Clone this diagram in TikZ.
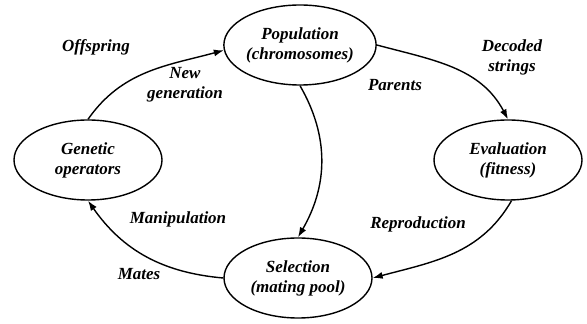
\documentclass[tikz,border=0pt]{standalone}
\usepackage{fontspec}
\setmainfont{Liberation Serif}
\usetikzlibrary{shapes.geometric, arrows.meta}

\begin{document}
\begin{tikzpicture}[x=1pt, y=1pt,
    state/.style={draw, ellipse, line width=1.4pt, minimum width=148pt, minimum height=80pt, inner sep=0pt, align=center},
    lbl/.style={align=center},
    every node/.append style={font=\fontsize{17}{20}\selectfont\bfseries\itshape}]

\useasboundingbox (0,0) rectangle (587,324);

% the four stages of the cycle
\node[state] (pop) at (300,279) {Population\\(chromosomes)};
\node[state] (eval) at (508,164) {Evaluation\\(fitness)};
\node[state] (sel) at (298,46) {Selection\\(mating pool)};
\node[state] (gen) at (88,164) {Genetic\\operators};

% arrows between them
\draw[->, >={Latex[length=10pt,width=7pt]}, line width=1.4pt] (gen.north) to[out=55, in=195] (pop.184);
\draw[->, >={Latex[length=10pt,width=7pt]}, line width=1.4pt] (pop.east) to[out=-15, in=118] (eval.north);
\draw[->, >={Latex[length=10pt,width=7pt]}, line width=1.4pt] (eval.-85) to[out=-120, in=15] (sel.east);
\draw[->, >={Latex[length=10pt,width=7pt]}, line width=1.4pt] (pop.south) to[out=-60, in=60] (sel.north);
\draw[->, >={Latex[length=10pt,width=7pt]}, line width=1.4pt] (sel.west) to[out=175, in=-55] (gen.south);

% labels
\node[lbl] (offspring) at (96,277) {Offspring};
\node[lbl] (newgen) at (185,239) {New\\generation};
\node[lbl] (decoded) at (512,267) {Decoded\\strings};
\node[lbl] (parents) at (395,239) {Parents};
\node[lbl] (repro) at (418,100) {Reproduction};
\node[lbl] (manip) at (178,105) {Manipulation};
\node[lbl] (mates) at (139,50) {Mates};

\end{tikzpicture}
\end{document}
